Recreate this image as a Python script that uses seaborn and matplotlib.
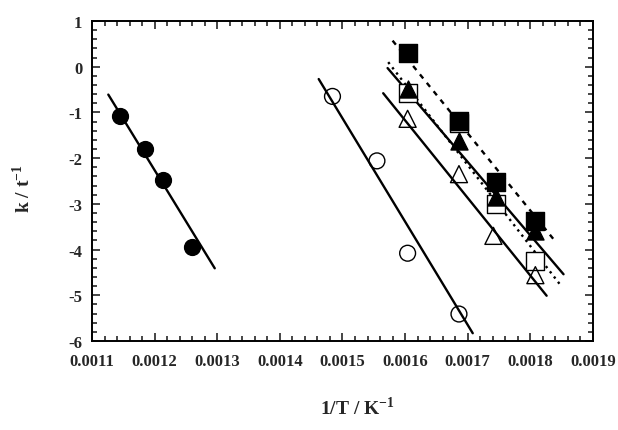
import matplotlib
matplotlib.use("Agg")
import matplotlib.pyplot as plt
from matplotlib.ticker import MultipleLocator, FormatStrFormatter
import seaborn as sns
import pandas as pd

sns.set_style("ticks")
plt.rcParams["font.family"] = ["Liberation Serif", "DejaVu Serif"]
plt.rcParams["font.weight"] = "bold"
plt.rcParams["mathtext.fontset"] = "custom"
plt.rcParams["mathtext.rm"] = "Liberation Serif:bold"
plt.rcParams["mathtext.bf"] = "Liberation Serif:bold"

# Measured rate data, ln k versus 1/T
filled_circle_x = [0.001145, 0.001185, 0.001214, 0.001260]
filled_circle_y = [-1.08, -1.81, -2.48, -3.94]

open_circle_x = [0.001484, 0.001555, 0.001604, 0.001686]
open_circle_y = [-0.65, -2.06, -4.08, -5.41]

filled_square_x = [0.001605, 0.001686, 0.001745, 0.001808]
filled_square_y = [0.30, -1.18, -2.52, -3.37]

open_square_x = [0.001604, 0.001686, 0.001745, 0.001808]
open_square_y = [-0.58, -1.24, -3.00, -4.24]

filled_triangle_x = [0.001604, 0.001686, 0.001745, 0.001808]
filled_triangle_y = [-0.49, -1.62, -2.86, -3.59]

open_triangle_x = [0.001604, 0.001686, 0.001741, 0.001808]
open_triangle_y = [-1.14, -2.35, -3.70, -4.56]

# Linear fits, given by their end points
fit_filled_circle_x = [0.001126, 0.001296]
fit_filled_circle_y = [-0.61, -4.41]
fit_open_circle_x = [0.001462, 0.001708]
fit_open_circle_y = [-0.27, -5.83]
fit_filled_square_x = [0.001580, 0.001841]
fit_filled_square_y = [0.57, -3.84]
fit_open_square_x = [0.001573, 0.001850]
fit_open_square_y = [0.10, -4.81]
fit_filled_triangle_x = [0.001572, 0.001853]
fit_filled_triangle_y = [-0.03, -4.54]
fit_open_triangle_x = [0.001565, 0.001826]
fit_open_triangle_y = [-0.58, -5.01]

x_ticks = [0.0011, 0.0012, 0.0013, 0.0014, 0.0015, 0.0016, 0.0017, 0.0018, 0.0019]
y_ticks = [-6, -5, -4, -3, -2, -1, 0, 1]

fig = plt.figure(figsize=(6.18, 4.31), dpi=100)
ax = fig.add_axes([0.1489, 0.2065, 0.8106, 0.7425])

fits = [
    (fit_filled_circle_x, fit_filled_circle_y, "-"),
    (fit_open_circle_x, fit_open_circle_y, "-"),
    (fit_filled_square_x, fit_filled_square_y, (0, (2.2, 2.4))),
    (fit_open_square_x, fit_open_square_y, (0, (1.0, 1.8))),
    (fit_filled_triangle_x, fit_filled_triangle_y, "-"),
    (fit_open_triangle_x, fit_open_triangle_y, "-"),
]
for fx, fy, ls in fits:
    sns.lineplot(x=fx, y=fy, ax=ax, color="black", linewidth=1.7,
                 linestyle=ls, zorder=2)

series = [
    (open_square_x, open_square_y, "s", "white", 150),
    (filled_square_x, filled_square_y, "s", "black", 150),
    (open_circle_x, open_circle_y, "o", "none", 130),
    (filled_circle_x, filled_circle_y, "o", "black", 130),
    (open_triangle_x, open_triangle_y, "^", "none", 150),
    (filled_triangle_x, filled_triangle_y, "^", "black", 150),
]
for sx, sy, mk, fc, size in series:
    df = pd.DataFrame({"x": sx, "y": sy})
    sns.scatterplot(data=df, x="x", y="y", ax=ax, marker=mk, s=size,
                    facecolor=fc, edgecolor="black", linewidth=1.0,
                    zorder=3)

ax.set_xlim(0.0011, 0.0019)
ax.set_ylim(-6, 1)
ax.set_xticks(x_ticks)
ax.set_yticks(y_ticks)
ax.xaxis.set_major_formatter(FormatStrFormatter("%.4f"))
ax.yaxis.set_major_formatter(FormatStrFormatter("%d"))
ax.xaxis.set_minor_locator(MultipleLocator(0.00002))
ax.yaxis.set_minor_locator(MultipleLocator(0.2))
ax.tick_params(which="both", direction="in", top=True, right=True,
               labelsize=12, width=1.2)
ax.tick_params(axis="x", pad=9)
ax.tick_params(axis="y", pad=7)
ax.tick_params(which="major", length=6)
ax.tick_params(which="minor", length=3.5)
for lab in ax.get_xticklabels() + ax.get_yticklabels():
    lab.set_fontweight("bold")
for sp in ax.spines.values():
    sp.set_linewidth(1.4)
    sp.set_color("black")

ax.set_xlabel(r"1/T / K$^{\mathbf{-1}}$", fontsize=14, fontweight="bold")
ax.set_ylabel(r"k / t$^{\mathbf{-1}}$", fontsize=14, fontweight="bold")
ax.xaxis.set_label_coords(0.53, -0.17)
ax.yaxis.set_label_coords(-0.115, 0.48)

fig.savefig("out.png", dpi=100)
